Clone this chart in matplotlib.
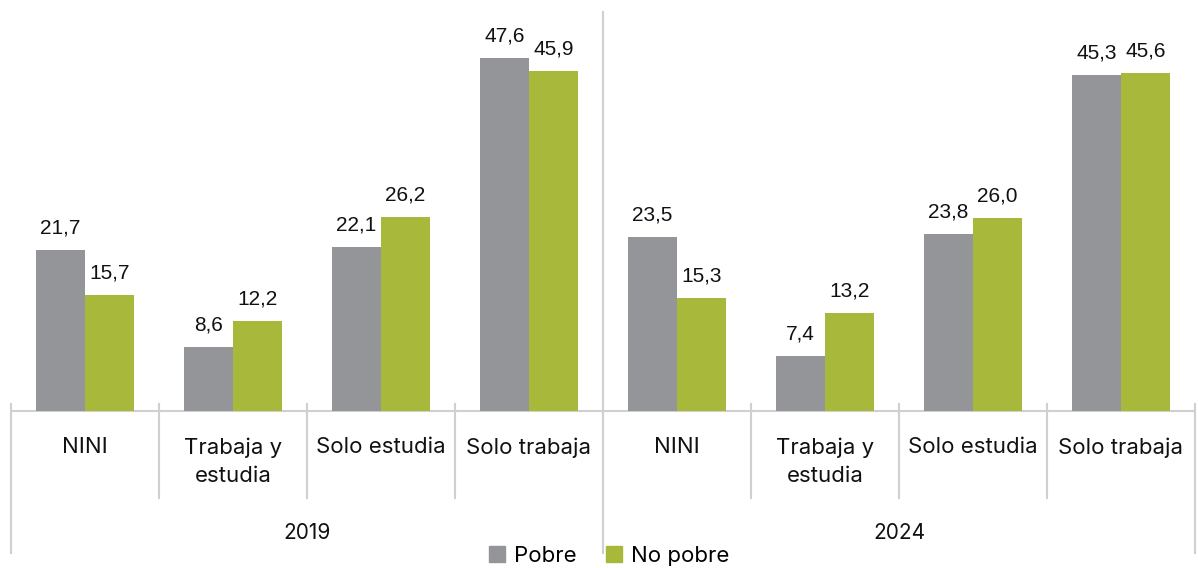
import matplotlib
matplotlib.use("Agg")
import matplotlib.pyplot as plt
from matplotlib.transforms import blended_transform_factory
from matplotlib.patches import Patch

years = ["2019", "2024"]
categories = ["NINI", "Trabaja y\nestudia", "Solo estudia", "Solo trabaja"]
pobre = [21.7, 8.6, 22.1, 47.6, 23.5, 7.4, 23.8, 45.3]
no_pobre = [15.7, 12.2, 26.2, 45.9, 15.3, 13.2, 26.0, 45.6]
series_names = ["Pobre", "No pobre"]

c_gray = "#939598"
c_green = "#a8b83a"
c_line = "#d0d0d0"
cat_font = "Inter"
num_font = "Liberation Sans"

W, H = 1198, 568
fig = plt.figure(figsize=(W / 100, H / 100), dpi=100)
ax = fig.add_axes([11 / W, (H - 411) / H, (1195 - 11) / W, (411 - 12) / H])

n = len(pobre)
xs = list(range(n))
bw = 0.33
off = 0.165
b1 = ax.bar([x - off for x in xs], pobre, width=bw, color=c_gray, zorder=2)
b2 = ax.bar([x + off for x in xs], no_pobre, width=bw, color=c_green, zorder=2)

def fmt(v):
    return f"{v:.1f}".replace(".", ",")

for bars, vals in ((b1, pobre), (b2, no_pobre)):
    for r, v in zip(bars, vals):
        ax.annotate(fmt(v), (r.get_x() + r.get_width() / 2, v), xytext=(0, 9),
                    textcoords="offset points", ha="center", va="bottom",
                    fontsize=15, family=num_font, color="#111111")

ax.set_xlim(-0.5, n - 0.5)
ax.set_ylim(0, 53.8)
ax.axis("off")

tr = blended_transform_factory(ax.transData, fig.transFigure)
def fy(py):
    return (H - py) / H

# baseline
ax.plot([-0.5, n - 0.5], [0, 0], color=c_line, lw=1.5, clip_on=False, zorder=1)
# dividers
ngrp = len(categories)
for i in range(n + 1):
    x = i - 0.5
    if i % ngrp == 0:
        top = 12 if (0 < i < n) else 404
        ax.plot([x, x], [fy(top), fy(553)], color=c_line, lw=1.5, transform=tr, clip_on=False)
    else:
        ax.plot([x, x], [fy(404), fy(498)], color=c_line, lw=1.5, transform=tr, clip_on=False)

# category labels
for i in range(n):
    ax.text(i, fy(437), categories[i % ngrp], transform=tr, ha="center", va="top",
            fontsize=16, family=cat_font, color="#111111", linespacing=1.5)
# year labels
for g, yr in enumerate(years):
    xc = g * ngrp + (ngrp - 1) / 2
    ax.text(xc, fy(533), yr, transform=tr, ha="center", va="center",
            fontsize=15, family=cat_font, color="#111111")

handles = [Patch(color=c_gray), Patch(color=c_green)]
fig.legend(handles, series_names, loc="center", bbox_to_anchor=(609 / W, fy(556)),
           ncol=2, frameon=False, prop={"family": cat_font, "size": 16},
           handlelength=0.75, handleheight=0.75, handletextpad=0.4, columnspacing=1.3,
           borderaxespad=0, borderpad=0)

fig.savefig("out.png", dpi=100)
